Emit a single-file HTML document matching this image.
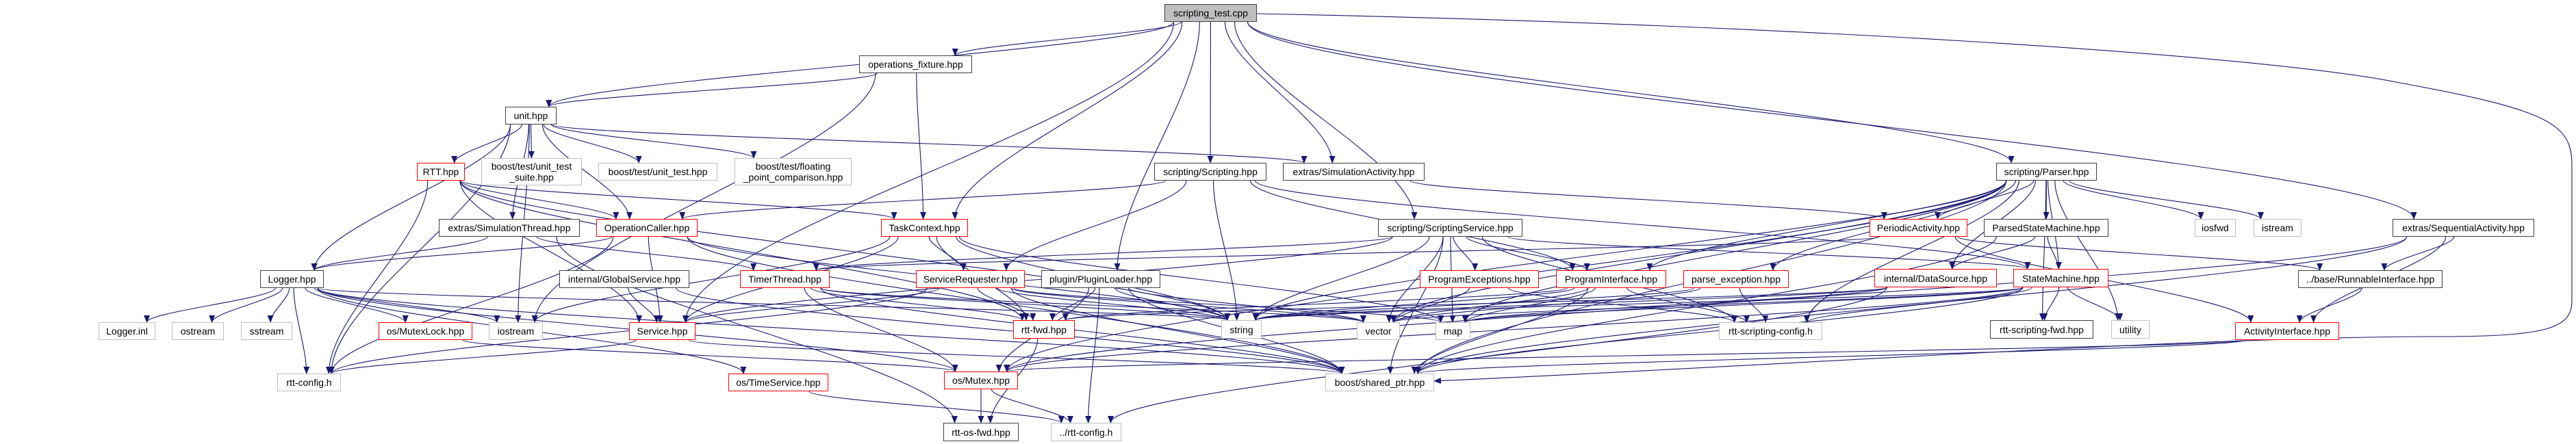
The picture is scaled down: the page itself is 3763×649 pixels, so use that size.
<!DOCTYPE html>
<html><head><meta charset="utf-8">
<style>
html,body{margin:0;padding:0;background:#fff;}
#c{position:relative;width:3763px;height:649px;overflow:hidden;font-family:"Liberation Sans",sans-serif;font-size:14px;}
.n{position:absolute;box-sizing:border-box;display:flex;align-items:center;justify-content:center;text-align:center;line-height:16px;background:#fff;white-space:nowrap;color:#000;z-index:2}
.b{border:1.5px solid #404040}
.r{border:1.5px solid #ff0000}
.g{border:1.5px solid #bfbfbf}
.s{border:1.5px solid #404040;background:#bfbfbf}
svg{position:absolute;left:0;top:0;z-index:1}
</style></head><body><div id="c">
<svg id="sv" width="3763" height="649" xmlns="http://www.w3.org/2000/svg">
<defs><marker id="a" markerUnits="userSpaceOnUse" markerWidth="11" markerHeight="9" refX="10" refY="4.5" orient="auto"><path d="M0,0 L11,4.5 L0,9 z" fill="#191970"/></marker></defs>
<g id="eg" fill="none" stroke="#191970" stroke-width="1.1"></g>
</svg>
<div class="n s" style="left:1701px;top:6px;width:135px;height:26px">scripting_test.cpp</div>
<div class="n b" style="left:1255px;top:81px;width:165px;height:26px">operations_fixture.hpp</div>
<div class="n b" style="left:738px;top:156px;width:75px;height:26px">unit.hpp</div>
<div class="n r" style="left:609px;top:238px;width:70px;height:26px">RTT.hpp</div>
<div class="n g" style="left:703px;top:231px;width:147px;height:40px">boost/test/unit_test<br>_suite.hpp</div>
<div class="n g" style="left:874px;top:238px;width:174px;height:26px">boost/test/unit_test.hpp</div>
<div class="n g" style="left:1073px;top:231px;width:171px;height:40px">boost/test/floating<br>_point_comparison.hpp</div>
<div class="n b" style="left:1686px;top:238px;width:164px;height:26px">scripting/Scripting.hpp</div>
<div class="n b" style="left:1874px;top:238px;width:207px;height:26px">extras/SimulationActivity.hpp</div>
<div class="n b" style="left:2916px;top:238px;width:147px;height:26px">scripting/Parser.hpp</div>
<div class="n b" style="left:641px;top:320px;width:206px;height:26px">extras/SimulationThread.hpp</div>
<div class="n r" style="left:871px;top:320px;width:148px;height:26px">OperationCaller.hpp</div>
<div class="n r" style="left:1287px;top:320px;width:127px;height:26px">TaskContext.hpp</div>
<div class="n b" style="left:2013px;top:320px;width:211px;height:26px">scripting/ScriptingService.hpp</div>
<div class="n r" style="left:2731px;top:320px;width:143px;height:26px">PeriodicActivity.hpp</div>
<div class="n b" style="left:2898px;top:320px;width:182px;height:26px">ParsedStateMachine.hpp</div>
<div class="n g" style="left:3206px;top:320px;width:60px;height:26px">iosfwd</div>
<div class="n g" style="left:3292px;top:320px;width:70px;height:26px">istream</div>
<div class="n b" style="left:3495px;top:320px;width:207px;height:26px">extras/SequentialActivity.hpp</div>
<div class="n b" style="left:380px;top:395px;width:93px;height:26px">Logger.hpp</div>
<div class="n b" style="left:817px;top:395px;width:190px;height:26px">internal/GlobalService.hpp</div>
<div class="n r" style="left:1081px;top:395px;width:131px;height:26px">TimerThread.hpp</div>
<div class="n r" style="left:1338px;top:395px;width:159px;height:26px">ServiceRequester.hpp</div>
<div class="n b" style="left:1521px;top:395px;width:174px;height:26px">plugin/PluginLoader.hpp</div>
<div class="n r" style="left:2074px;top:395px;width:174px;height:26px">ProgramExceptions.hpp</div>
<div class="n r" style="left:2273px;top:395px;width:161px;height:26px">ProgramInterface.hpp</div>
<div class="n r" style="left:2459px;top:395px;width:154px;height:26px">parse_exception.hpp</div>
<div class="n r" style="left:2738px;top:393px;width:179px;height:27px">internal/DataSource.hpp</div>
<div class="n r" style="left:2941px;top:393px;width:139px;height:27px">StateMachine.hpp</div>
<div class="n b" style="left:3357px;top:395px;width:211px;height:26px">../base/RunnableInterface.hpp</div>
<div class="n g" style="left:144px;top:471px;width:83px;height:26px">Logger.inl</div>
<div class="n g" style="left:251px;top:471px;width:76px;height:26px">ostream</div>
<div class="n g" style="left:352px;top:471px;width:75px;height:26px">sstream</div>
<div class="n r" style="left:553px;top:471px;width:137px;height:26px">os/MutexLock.hpp</div>
<div class="n g" style="left:714px;top:471px;width:79px;height:26px">iostream</div>
<div class="n r" style="left:919px;top:471px;width:97px;height:26px">Service.hpp</div>
<div class="n r" style="left:1480px;top:468px;width:90px;height:27px">rtt-fwd.hpp</div>
<div class="n g" style="left:1784px;top:468px;width:59px;height:27px">string</div>
<div class="n g" style="left:1982px;top:471px;width:63px;height:26px">vector</div>
<div class="n g" style="left:2097px;top:471px;width:51px;height:26px">map</div>
<div class="n g" style="left:2511px;top:471px;width:151px;height:26px">rtt-scripting-config.h</div>
<div class="n b" style="left:2907px;top:468px;width:151px;height:27px">rtt-scripting-fwd.hpp</div>
<div class="n g" style="left:3084px;top:468px;width:56px;height:27px">utility</div>
<div class="n r" style="left:3265px;top:471px;width:152px;height:26px">ActivityInterface.hpp</div>
<div class="n g" style="left:405px;top:546px;width:93px;height:26px">rtt-config.h</div>
<div class="n r" style="left:1064px;top:546px;width:146px;height:26px">os/TimeService.hpp</div>
<div class="n r" style="left:1379px;top:543px;width:108px;height:26px">os/Mutex.hpp</div>
<div class="n g" style="left:1936px;top:546px;width:159px;height:26px">boost/shared_ptr.hpp</div>
<div class="n b" style="left:1378px;top:618px;width:110px;height:27px">rtt-os-fwd.hpp</div>
<div class="n g" style="left:1535px;top:618px;width:103px;height:27px">../rtt-config.h</div>
</div>
<script>
var N={st:[1701,6,1836,32],ops:[1255,81,1420,107],unit:[738,156,813,182],rtt:[609,238,679,264],uts:[703,231,850,271],ut:[874,238,1048,264],fpc:[1073,231,1244,271],scr:[1686,238,1850,264],sima:[1874,238,2081,264],par:[2916,238,3063,264],
simt:[641,320,847,346],opc:[871,320,1019,346],tc:[1287,320,1414,346],ss:[2013,320,2224,346],per:[2731,320,2874,346],psm:[2898,320,3080,346],iosfwd:[3206,320,3266,346],istr:[3292,320,3362,346],seq:[3495,320,3702,346],
log:[380,395,473,421],gs:[817,395,1007,421],tt:[1081,395,1212,421],sr:[1338,395,1497,421],pl:[1521,395,1695,421],pe:[2074,395,2248,421],pi:[2273,395,2434,421],pex:[2459,395,2613,421],ds:[2738,393,2917,420],sm:[2941,393,3080,420],run:[3357,395,3568,421],
linl:[144,471,227,497],ost:[251,471,327,497],sst:[352,471,427,497],ml:[553,471,690,497],ios:[714,471,793,497],svc:[919,471,1016,497],fwd:[1480,468,1570,495],str:[1784,468,1843,495],vec:[1982,471,2045,497],map:[2097,471,2148,497],rsc:[2511,471,2662,497],rsf:[2907,468,3058,495],util:[3084,468,3140,495],ai:[3265,471,3417,497],
rc:[405,546,498,572],ts:[1064,546,1210,572],mx:[1379,543,1487,569],sp:[1936,546,2095,572],osf:[1378,618,1488,645],rc2:[1535,618,1638,645]};
var E="st ops,st unit,st scr,st sima,st par,st seq,st ss,st pl,st svc,st tc,ops unit,ops tc,ops ios,unit rtt,unit uts,unit ut,unit fpc,unit sima,unit simt,unit log,unit ios,unit rc,unit opc,rtt rc,rtt opc,rtt tc,rtt fwd,rtt str,rtt svc,scr opc,scr sr,scr str,scr pi,scr sm,sima per,par str,par pi,par pex,par ds,par sm,par psm,par iosfwd,par istr,par rsf,par util,par rsc,par vec,par map,par sp,par mx,par per,simt tt,simt osf,simt log,opc log,opc svc,opc rc,opc str,opc sp,tc sr,tc str,tc fwd,tc map,tc svc,tc ios,ss pe,ss pi,ss vec,ss map,ss rsc,ss str,ss svc,ss tt,ss sp,ss sm,per tt,per ai,per run,psm ds,psm sm,psm sp,seq run,seq ai,seq mx,seq sp,log linl,log ost,log sst,log ml,log ios,log rc,log str,log sp,log mx,log ts,gs svc,gs sp,tt mx,tt str,tt vec,tt sp,tt fwd,sr svc,sr fwd,sr str,sr vec,sr map,sr sp,sr rc,pl fwd,pl mx,pl str,pl vec,pl rc2,pl sp,pe vec,pe rsc,pi vec,pi str,pi rsc,pi sp,pi map,pi fwd,pex rsc,pex str,pex vec,ds str,ds map,ds fwd,ds rc2,sm util,sm str,sm vec,sm map,sm rsc,sm rsf,sm sp,sm mx,run ai,ai sp,ai mx,ml mx,svc rc,svc sp,fwd osf,ts rc2,mx osf,mx rc2".split(",");
var g=document.getElementById("eg"),s="";
function cl(v,m){return Math.max(-m,Math.min(m,v));}
E.forEach(function(e){var p=e.split(" "),a=N[p[0]],b=N[p[1]];
var ax=(a[0]+a[2])/2,bx=(b[0]+b[2])/2,aw=(a[2]-a[0])/2,bw=(b[2]-b[0])/2;
var x1=ax+cl((bx-ax)*0.1,aw*0.8),y1=a[3],x2=bx+cl((ax-bx)*0.15,bw*0.7),y2=b[1];
if(b[1]<a[3]){y1=(a[1]+a[3])/2;y2=(b[1]+b[3])/2;x1=bx<ax?a[0]:a[2];x2=bx<ax?b[2]:b[0];}
var dy=y2-y1,m=dy*0.3;
s+='<path d="M'+x1+','+y1+' C'+x1+','+(y1+m)+' '+x2+','+(y2-m)+' '+x2+','+y2+'" marker-end="url(#a)"/>';});
s+='<path d="M1836,20 C2600,35 3300,80 3500,120 C3720,160 3757,180 3757,240 L3757,440 C3757,480 3720,492 3560,492 C3200,492 2600,535 2095,557" marker-end="url(#a)"/>';
g.innerHTML=s;
</script>
</body></html>
